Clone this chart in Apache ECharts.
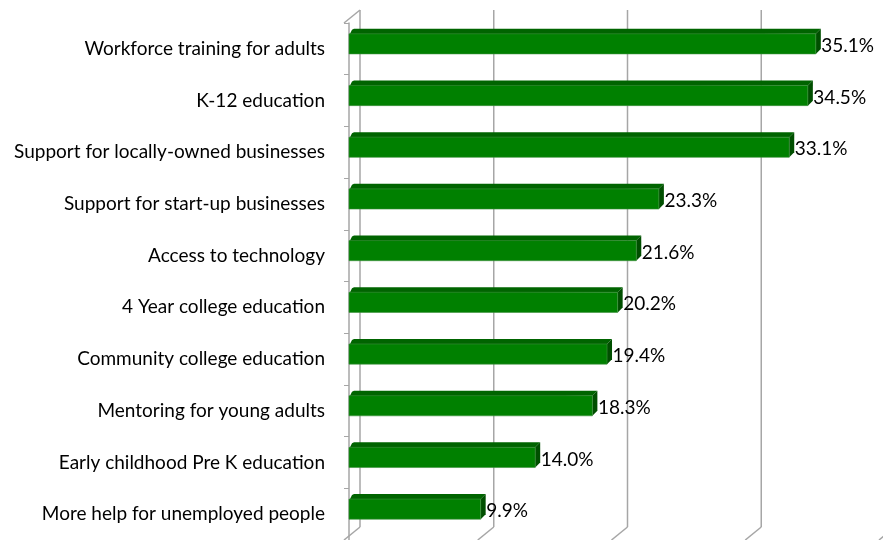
<!DOCTYPE html>
<html>
<head>
<meta charset="utf-8">
<script src="https://cdn.jsdelivr.net/npm/echarts@6/dist/echarts.min.js"></script>
<style>html,body{margin:0;padding:0;background:#fff}#c{width:883px;height:540px}</style>
</head>
<body>
<div id="c"></div>
<script>
const categories = [
  "Workforce training for adults",
  "K-12 education",
  "Support for locally-owned businesses",
  "Support for start-up businesses",
  "Access to technology",
  "4 Year college education",
  "Community college education",
  "Mentoring for young adults",
  "Early childhood Pre K education",
  "More help for unemployed people"
];
const values = [35.1, 34.5, 33.1, 23.3, 21.6, 20.2, 19.4, 18.3, 14.0, 9.9];
const gridTicks = [0, 10, 20, 30, 40];

const FONT = "Lato, 'Liberation Sans', Arial, sans-serif";
const GRID_COLOR = '#a6a6a6';
const DEPTH = 5;

const chart = echarts.init(document.getElementById('c'), null, {renderer: 'canvas'});

function renderBar(params, api) {
  const v = api.value(0), idx = api.value(1);
  const end = api.coord([v, idx]);
  const start = api.coord([0, idx]);
  const band = api.size([0, 1])[1];
  const h = band * 0.39;
  const cy = end[1] - 5;
  const top = cy - h / 2, bot = cy + h / 2;
  const d = DEPTH;
  return {
    type: 'group',
    children: [
      {type: 'polygon', shape: {points: [[start[0], top + 2], [start[0] + 3, top - d + 1], [start[0] + d, top - d], [end[0] + d, top - d], [end[0], top]]},
        style: {fill: '#006400'}},
      {type: 'polygon', shape: {points: [[end[0], top], [end[0] + d, top - d], [end[0] + d, bot - d], [end[0], bot]]},
        style: {fill: '#004f00'}},
      {type: 'rect', shape: {x: start[0], y: top, width: end[0] - start[0], height: h},
        style: {fill: '#008000', stroke: '#3d8f3d', lineWidth: 0.6}},
      {type: 'text', x: end[0] + d + 0.5, y: cy + 2,
        style: {text: v.toFixed(1) + '%', fontFamily: FONT, fontSize: 19, fill: '#000', verticalAlign: 'middle', align: 'left'}}
    ]
  };
}

function renderWall(params, api) {
  const v = api.value(0);
  const t = api.coord([v, 1]);
  const b = api.coord([v, 0]);
  const lines = [
    {type: 'line', shape: {x1: t[0], y1: t[1], x2: b[0], y2: b[1]}, style: {stroke: GRID_COLOR, lineWidth: 1.5}},
    {type: 'line', shape: {x1: b[0], y1: b[1], x2: b[0] - 16, y2: b[1] + 13}, style: {stroke: GRID_COLOR, lineWidth: 1.5}}
  ];
  if (v === 0) {
    lines.push({type: 'line', shape: {x1: t[0], y1: t[1], x2: t[0] - 16, y2: t[1] + 13}, style: {stroke: GRID_COLOR, lineWidth: 1.5}});
  }
  return {type: 'group', children: lines};
}

const option = {
  animation: false,
  backgroundColor: '#ffffff',
  grid: [
    {left: 349, width: 532, top: 23, bottom: 0, containLabel: false},
    {left: 360, width: 401.25, top: 10, bottom: 13, containLabel: false}
  ],
  xAxis: [
    {type: 'value', gridIndex: 0, min: 0, max: 40, interval: 10, show: false},
    {type: 'value', gridIndex: 1, min: 0, max: 30, interval: 10, show: false}
  ],
  yAxis: [
    {type: 'category', gridIndex: 0, data: categories, inverse: true, offset: 5,
      axisLine: {show: true, lineStyle: {color: GRID_COLOR, width: 1.5}},
      axisTick: {show: true, length: 5, lineStyle: {color: GRID_COLOR, width: 1}},
      axisLabel: {margin: 19, fontFamily: FONT, fontSize: 19, color: '#000'},
      splitLine: {show: false}},
    {type: 'value', gridIndex: 1, min: 0, max: 1, show: false}
  ],
  series: [
    {type: 'custom', xAxisIndex: 1, yAxisIndex: 1, z: 1, silent: true, clip: false,
      data: gridTicks.map(t => [t]), encode: {x: 0}, renderItem: renderWall},
    {type: 'custom', xAxisIndex: 0, yAxisIndex: 0, z: 5,
      data: values.map((v, i) => [v, i]), encode: {x: 0, y: 1}, renderItem: renderBar}
  ]
};
chart.setOption(option);
</script>
</body>
</html>
